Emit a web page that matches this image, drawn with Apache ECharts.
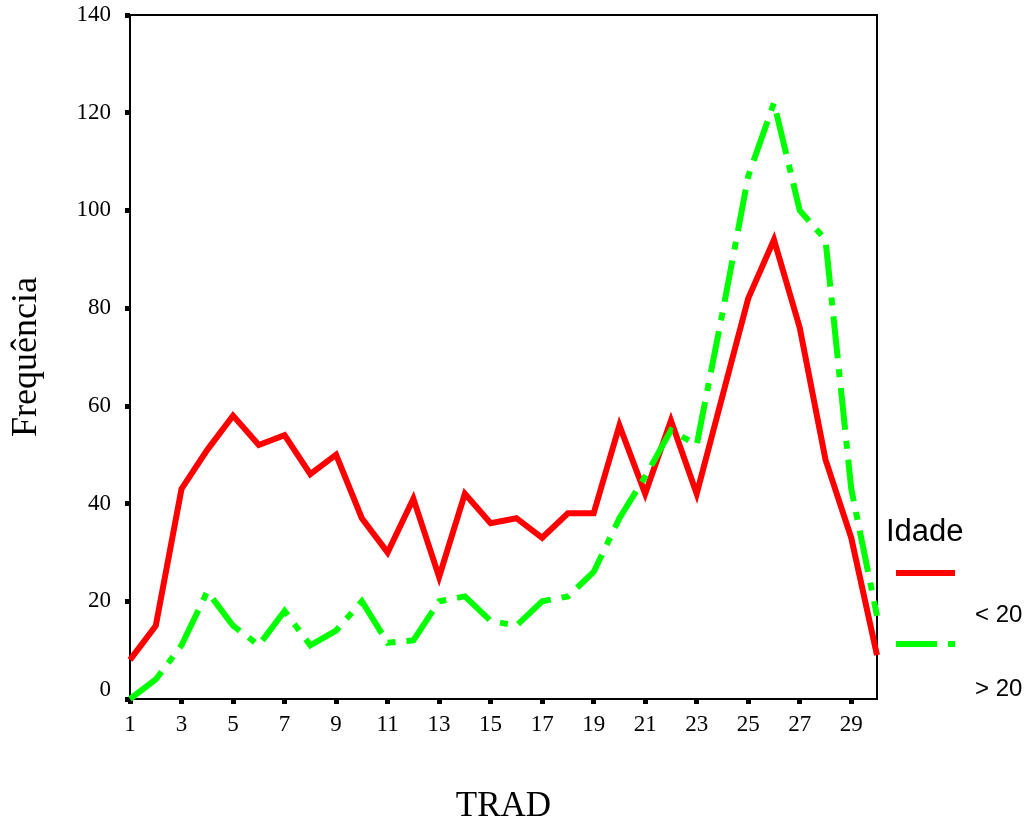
<!DOCTYPE html>
<html>
<head>
<meta charset="utf-8">
<script src="https://cdn.jsdelivr.net/npm/echarts@6/dist/echarts.min.js"></script>
<style>html,body{margin:0;padding:0;background:#fff;}#c{width:1032px;height:827px;}</style>
</head>
<body>
<div id="c"></div>
<script>
const categories = ['1','2','3','4','5','6','7','8','9','10','11','12','13','14','15','16','17','18','19','20','21','22','23','24','25','26','27','28','29','30'];
const under20 = [8,15,43,51,58,52,54,46,50,37,30,41,25,42,36,37,33,38,38,56,42,57,42,62,82,94,76,49,33,9];
const over20 = [0,4,11,22,15,11,18,11,14,20,11.5,12,20,21,16,15,20,21,26,37,45.5,55,52,79,107,122,100,94,43,17];
const yTicks = [0,20,40,60,80,100,120,140];
const seriesNames = ['< 20','> 20'];

const serif = '"Liberation Serif","Times New Roman",serif';
const sans = '"Liberation Sans",Arial,sans-serif';
const chart = echarts.init(document.getElementById('c'), null, {renderer:'canvas'});
chart.setOption({
  animation:false,
  backgroundColor:'#fff',
  grid:{left:130,right:155,top:15,bottom:128,containLabel:false,outerBoundsMode:'none',show:true,borderColor:'#000',borderWidth:2,backgroundColor:'transparent'},
  xAxis:{
    type:'category',data:categories,boundaryGap:false,
    name:'TRAD',nameLocation:'middle',nameGap:90,
    nameTextStyle:{fontFamily:serif,fontSize:35,color:'#000'},
    axisLine:{lineStyle:{color:'#000',width:2}},
    axisTick:{show:true,interval:1,length:5,lineStyle:{color:'#000',width:5}},
    axisLabel:{interval:1,fontFamily:serif,fontSize:23,color:'#000',margin:14},
    splitLine:{show:false}
  },
  yAxis:{
    type:'value',min:yTicks[0],max:yTicks[yTicks.length-1],interval:20,
    name:'Frequência',nameLocation:'middle',nameGap:85,
    nameTextStyle:{fontFamily:serif,fontSize:36,color:'#000'},
    axisLine:{show:true,lineStyle:{color:'#000',width:2}},
    axisTick:{show:true,length:5,lineStyle:{color:'#000',width:5}},
    axisLabel:{fontFamily:serif,fontSize:23,color:'#000',margin:19,
      formatter:function(v){return v===0?'{z|0}':String(v);},
      rich:{z:{fontFamily:serif,fontSize:23,color:'#000',padding:[0,0,18,0]}}},
    splitLine:{show:false}
  },
  series:[
    {name:seriesNames[0],type:'line',data:under20,symbol:'none',lineStyle:{color:'#ff0000',width:6,join:'miter'}},
    {name:seriesNames[1],type:'line',data:over20,symbol:'none',lineStyle:{color:'#00ff00',width:6,type:[42,11,8,11],cap:'butt',join:'miter'}}
  ],
  graphic:[
    {type:'text',left:886,top:517,style:{text:'Idade',font:'31px '+sans,fill:'#000'}},
    {type:'line',shape:{x1:896,y1:573,x2:955,y2:573},style:{stroke:'#ff0000',lineWidth:6}},
    {type:'text',left:975,top:603,style:{text:seriesNames[0],font:'24px '+sans,fill:'#000'}},
    {type:'line',shape:{x1:896,y1:644,x2:955,y2:644},style:{stroke:'#00ff00',lineWidth:6,lineDash:[41,11,8,20]}},
    {type:'text',left:975,top:677,style:{text:seriesNames[1],font:'24px '+sans,fill:'#000'}}
  ]
});
</script>
</body>
</html>
